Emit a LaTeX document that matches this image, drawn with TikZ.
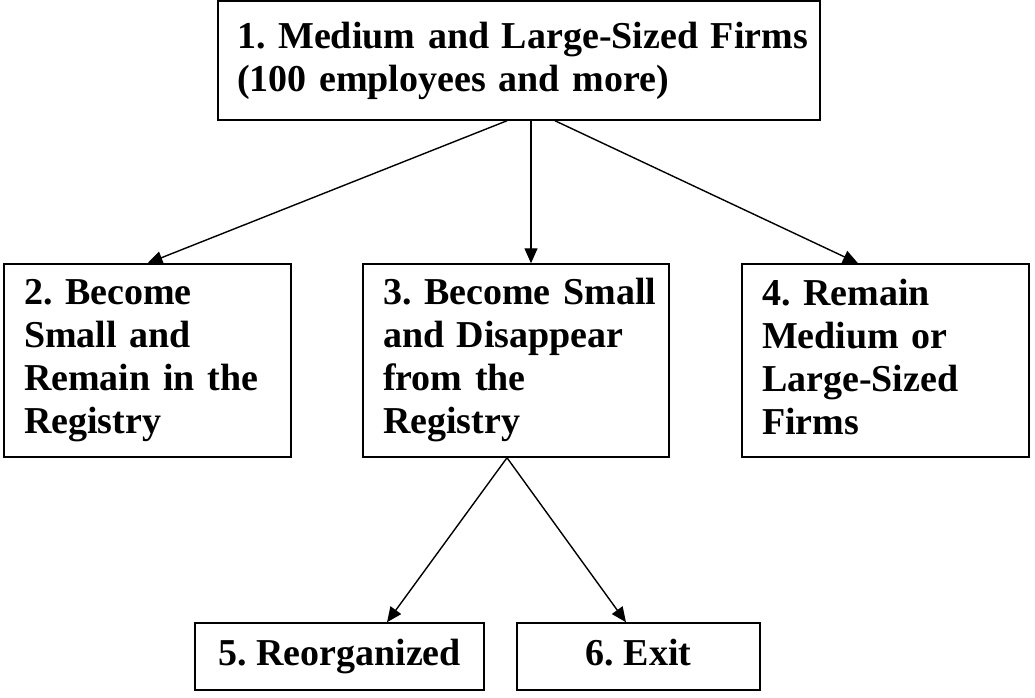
\documentclass[tikz,border=0pt]{standalone}
\usepackage{fontspec}
\setmainfont{Liberation Serif}
\usetikzlibrary{arrows.meta}
\frenchspacing

\begin{document}
\begin{tikzpicture}[x=1pt,y=-1pt]
\tikzstyle{firm}=[draw,line width=1.5pt,align=left,inner xsep=20pt,inner ysep=0pt,font=\bfseries\fontsize{38}{43}\selectfont]
\tikzstyle{outcome}=[firm,align=center,inner xsep=0pt]
\tikzstyle{flow}=[line width=1.4pt,-{Triangle[length=15pt,width=13pt]}]
\useasboundingbox (0,0) rectangle (1035,698);
\node[firm,inner xsep=19pt,text width=564pt,minimum height=119pt] (large) at (519,60.5)
  {\mbox{1. Medium and Large-Sized Firms}\\\mbox{(100 employees and more)}};
\node[firm,text width=247pt,minimum height=193pt] (smallstay) at (147.5,360.5)
  {\mbox{2. Become}\\\mbox{Small and}\\\mbox{Remain in the}\\\mbox{Registry}};
\node[firm,text width=266pt,minimum height=193pt] (smallgone) at (516,360.5)
  {\mbox{3. Become Small}\\\mbox{and Disappear}\\\mbox{from the}\\\mbox{Registry}};
\node[firm,text width=247pt,minimum height=193pt] (remain) at (885.5,360.5)
  {\mbox{4. Remain}\\\mbox{Medium or}\\\mbox{Large-Sized}\\\mbox{Firms\vphantom{y}}};
\node[outcome,minimum width=289pt,minimum height=67pt] (reorg) at (339.5,656.5) {5. Reorganized};
\node[outcome,minimum width=243pt,minimum height=67pt] (exit) at (638.5,656.5) {6. Exit\vphantom{g}};
\draw[flow] ([xshift=-12pt]large.south) -- (smallstay.north);
\draw[flow] ([xshift=12pt]large.south) -- ([xshift=15pt]smallgone.north);
\draw[flow] ([xshift=36pt]large.south) -- ([xshift=-27.5pt]remain.north);
\draw[flow] ([xshift=-9pt]smallgone.south) -- ([xshift=47.5pt]reorg.north);
\draw[flow] ([xshift=-9pt]smallgone.south) -- ([xshift=-12.5pt]exit.north);
\end{tikzpicture}
\end{document}
